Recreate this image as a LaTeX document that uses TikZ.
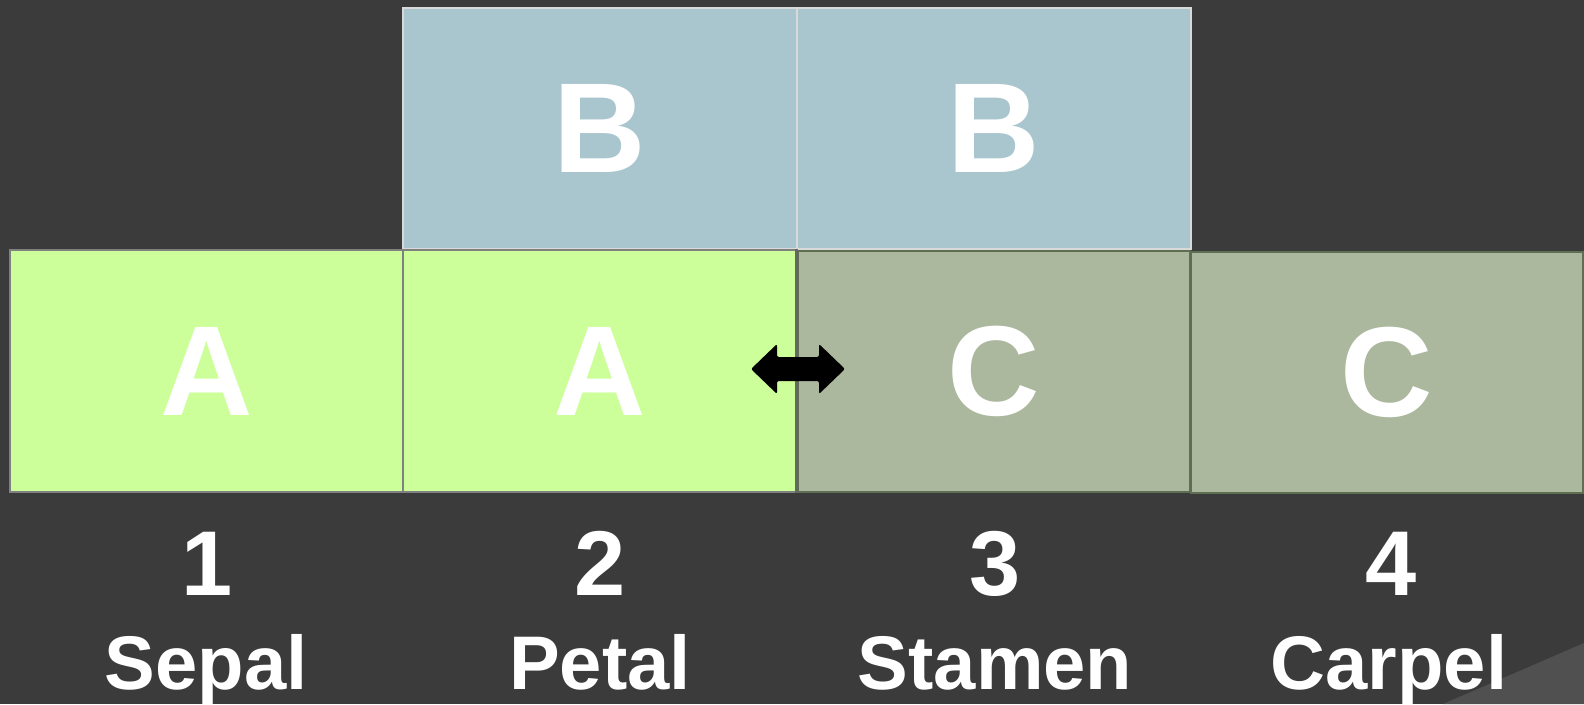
\documentclass[tikz,border=0pt]{standalone}
\usepackage{fontspec}
\setmainfont{Liberation Sans}
\usetikzlibrary{calc}
\definecolor{bgc}{HTML}{3B3B3B}
\definecolor{agreen}{HTML}{CCFF99}
\definecolor{bblue}{HTML}{A9C6CF}
\definecolor{cgreen}{HTML}{ABB89E}
\definecolor{cedge}{HTML}{5E6E52}
\definecolor{curl}{HTML}{505050}
\tikzset{
  box/.style={draw, line width=1.2pt, inner sep=0pt, text=white,
    font=\bfseries\fontsize{128}{128}\selectfont},
  abox/.style={box, fill=agreen, draw=gray},
  bbox/.style={box, fill=bblue, draw=white!85!black},
  cbox/.style={box, fill=cgreen, draw=cedge},
  num/.style={text=white, anchor=base, inner sep=0pt,
    font=\bfseries\fontsize{92}{92}\selectfont},
  organ/.style={text=white, anchor=base, inner sep=0pt,
    font=\bfseries\fontsize{76}{76}\selectfont},
}
\begin{document}
\begin{tikzpicture}[x=1pt,y=-1pt]
\fill[bgc] (0,0) rectangle (1584,704);
\useasboundingbox (0,0) rectangle (1584,704);
\fill[curl] (1443,704) -- (1584,643) -- (1584,704) -- cycle;
% B row
\node[bbox, minimum width=394pt, minimum height=241pt] (b1) at (600,128.5) {B};
\node[bbox, minimum width=394pt, minimum height=241pt] (b2) at (994,128.5) {B};
% A and C row
\node[abox, minimum width=393pt, minimum height=242pt] (a1) at (206.5,371) {A};
\node[abox, minimum width=393pt, minimum height=242pt] (a2) at (599.5,371) {A};
\node[cbox, minimum width=392pt, minimum height=241pt] (c1) at (994,371.5) {C};
\node[cbox, minimum width=392pt, minimum height=241pt] (c2) at (1387,372.5) {C};
\draw[line width=2.5pt, draw=black!60] (a2.north east) -- (a2.south east);
% double arrow
\coordinate (mid) at (798,369);
\fill[black, rounded corners=2pt]
  ($(mid)+(-47,0)$) -- ($(mid)+(-21,-25)$) -- ($(mid)+(-21,-12)$) --
  ($(mid)+(21,-12)$) -- ($(mid)+(21,-25)$) -- ($(mid)+(47,0)$) --
  ($(mid)+(21,25)$) -- ($(mid)+(21,12)$) -- ($(mid)+(-21,12)$) --
  ($(mid)+(-21,25)$) -- cycle;
% numbers and names
\node[num] (n1) at (207,595) {1};
\node[num] (n2) at (600,595) {2};
\node[num] (n3) at (995,595) {3};
\node[num] (n4) at (1391,595) {4};
\node[organ] (l1) at (206,689) {Sepal};
\node[organ] (l2) at (600,689) {Petal};
\node[organ] (l3) at (995,689) {Stamen};
\node[organ] (l4) at (1389,689) {Carpel};
\end{tikzpicture}
\end{document}
